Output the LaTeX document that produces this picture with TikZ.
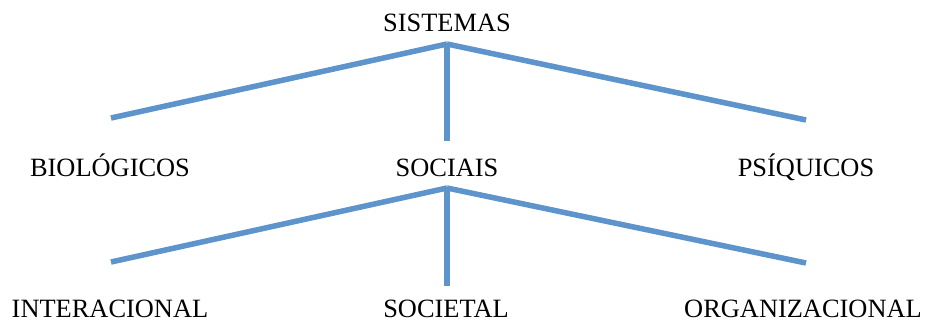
\documentclass[tikz,border=0pt]{standalone}
\usepackage{fontspec}
\setmainfont{Liberation Serif}
\definecolor{ramo}{RGB}{94,148,204}
\tikzset{
  rotulo/.style={anchor=base,inner sep=0pt,font=\fontsize{26.4}{30}\selectfont},
  ramo/.style={draw=ramo,line width=5.5pt},
  sombra/.style={draw=black!18,line width=5pt,opacity=0.6}
}
\begin{document}
\begin{tikzpicture}[x=1pt,y=-1pt]
\useasboundingbox (0,0) rectangle (929,321);
\node[rotulo] (sistemas) at (447,32) {SISTEMAS};
\node[rotulo] (biologicos) at (110,176) {BIOLÓGICOS};
\node[rotulo] (sociais) at (447,176) {SOCIAIS};
\node[rotulo] (psiquicos) at (806,176) {PSÍQUICOS};
\node[rotulo] (interacional) at (110,317) {INTERACIONAL};
\node[rotulo] (societal) at (446,317) {SOCIETAL};
\node[rotulo] (organizacional) at (803,317) {ORGANIZACIONAL};

\coordinate (j1) at (447,44);
\coordinate (e1) at (111,118);
\coordinate (d1) at (806,120);
\coordinate (m1) at (447,141);

\coordinate (j2) at (447,188);
\coordinate (e2) at (111,262);
\coordinate (d2) at (806,263);
\coordinate (m2) at (447,286);

\begin{scope}[shift={(1.5,3)}]
\draw[sombra] (e1) -- (j1) -- (d1);
\draw[sombra] (j1) -- (m1);
\draw[sombra] (e2) -- (j2) -- (d2);
\draw[sombra] (j2) -- (m2);
\end{scope}

\draw[ramo] (j1) -- (e1);
\draw[ramo] (j1) -- (d1);
\draw[ramo] (j1) -- (m1);
\draw[ramo] (j2) -- (e2);
\draw[ramo] (j2) -- (d2);
\draw[ramo] (j2) -- (m2);
\end{tikzpicture}
\end{document}
